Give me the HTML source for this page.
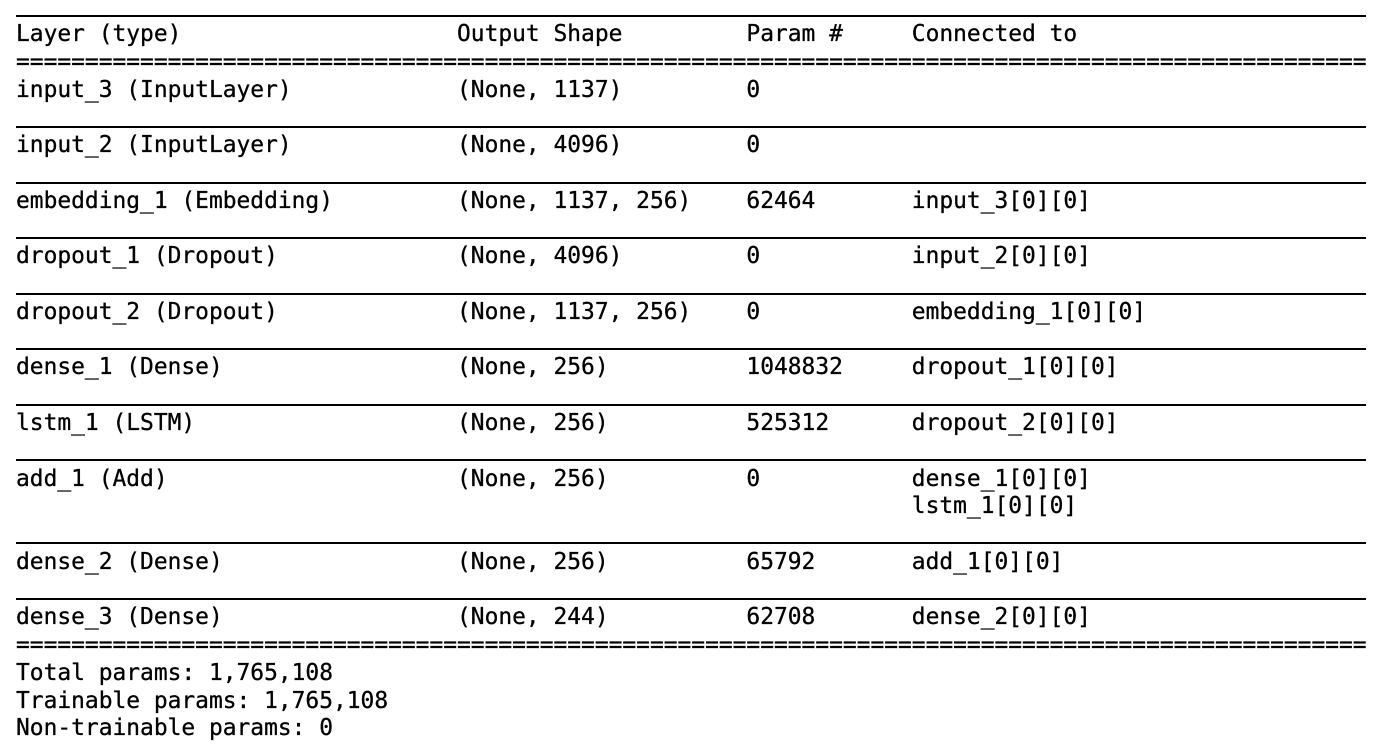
<!DOCTYPE html>
<html><head><meta charset="utf-8"><style>
html,body{margin:0;padding:0;background:#fff;width:1400px;height:754px;overflow:hidden;position:relative}
pre{position:absolute;left:16px;top:-6.5px;margin:0;font-family:"DejaVu Sans Mono","Liberation Mono",monospace;font-size:22.9px;line-height:27.76px;color:#000;white-space:pre;-webkit-text-stroke:0.3px #000}
.r{position:absolute;left:16px;width:1350px;height:2px;background:#000}
</style></head><body>
<pre>

Layer (type)                    Output Shape         Param #     Connected to
==================================================================================================
input_3 (InputLayer)            (None, 1137)         0

input_2 (InputLayer)            (None, 4096)         0

embedding_1 (Embedding)         (None, 1137, 256)    62464       input_3[0][0]

dropout_1 (Dropout)             (None, 4096)         0           input_2[0][0]

dropout_2 (Dropout)             (None, 1137, 256)    0           embedding_1[0][0]

dense_1 (Dense)                 (None, 256)          1048832     dropout_1[0][0]

lstm_1 (LSTM)                   (None, 256)          525312      dropout_2[0][0]

add_1 (Add)                     (None, 256)          0           dense_1[0][0]
                                                                 lstm_1[0][0]

dense_2 (Dense)                 (None, 256)          65792       add_1[0][0]

dense_3 (Dense)                 (None, 244)          62708       dense_2[0][0]
==================================================================================================
Total params: 1,765,108
Trainable params: 1,765,108
Non-trainable params: 0
</pre>
<div class="r" style="top:15px"></div>
<div class="r" style="top:126px"></div>
<div class="r" style="top:181.6px"></div>
<div class="r" style="top:237.1px"></div>
<div class="r" style="top:292.6px"></div>
<div class="r" style="top:348.1px"></div>
<div class="r" style="top:403.7px"></div>
<div class="r" style="top:459.2px"></div>
<div class="r" style="top:542.4px"></div>
<div class="r" style="top:598px"></div>
</body></html>
